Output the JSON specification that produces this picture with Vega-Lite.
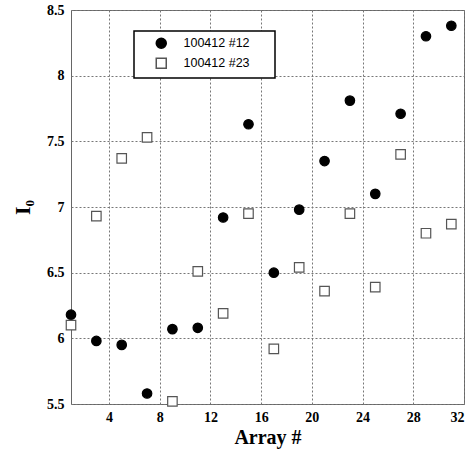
{
  "$schema": "https://vega.github.io/schema/vega-lite/v6.json",
  "width": 393,
  "height": 394,
  "autosize": "none",
  "padding": {"left": 71, "top": 10, "right": 9, "bottom": 45},
  "background": "white",
  "config": {
    "view": {"stroke": "#666", "strokeWidth": 1},
    "axis": {
      "domain": false,
      "ticks": false,
      "grid": true,
      "gridColor": "#777",
      "gridDash": [2, 2],
      "gridWidth": 1,
      "labelFont": "Liberation Serif",
      "labelFontWeight": "bold",
      "labelFontSize": 14,
      "labelColor": "black",
      "titleFont": "Liberation Serif",
      "titleFontWeight": "bold",
      "titleFontSize": 20,
      "titleColor": "black"
    },
    "legend": {
      "orient": "none",
      "legendX": 63,
      "legendY": 21,
      "padding": 6,
      "strokeColor": "black",
      "strokeWidth": 1.5,
      "fillColor": "white",
      "labelFont": "Liberation Sans",
      "labelFontSize": 12.5,
      "labelColor": "black",
      "symbolOffset": 15,
      "labelOffset": 16,
      "rowPadding": 3,
      "titleOrient": "right",
      "titlePadding": 19,
      "titleFontSize": 10
    }
  },
  "data": {
    "values": [
      {"array": 1, "I0": 6.18, "series": "100412 #12"},
      {"array": 3, "I0": 5.98, "series": "100412 #12"},
      {"array": 5, "I0": 5.95, "series": "100412 #12"},
      {"array": 7, "I0": 5.58, "series": "100412 #12"},
      {"array": 9, "I0": 6.07, "series": "100412 #12"},
      {"array": 11, "I0": 6.08, "series": "100412 #12"},
      {"array": 13, "I0": 6.92, "series": "100412 #12"},
      {"array": 15, "I0": 7.63, "series": "100412 #12"},
      {"array": 17, "I0": 6.50, "series": "100412 #12"},
      {"array": 19, "I0": 6.98, "series": "100412 #12"},
      {"array": 21, "I0": 7.35, "series": "100412 #12"},
      {"array": 23, "I0": 7.81, "series": "100412 #12"},
      {"array": 25, "I0": 7.10, "series": "100412 #12"},
      {"array": 27, "I0": 7.71, "series": "100412 #12"},
      {"array": 29, "I0": 8.30, "series": "100412 #12"},
      {"array": 31, "I0": 8.38, "series": "100412 #12"},
      {"array": 1, "I0": 6.10, "series": "100412 #23"},
      {"array": 3, "I0": 6.93, "series": "100412 #23"},
      {"array": 5, "I0": 7.37, "series": "100412 #23"},
      {"array": 7, "I0": 7.53, "series": "100412 #23"},
      {"array": 9, "I0": 5.52, "series": "100412 #23"},
      {"array": 11, "I0": 6.51, "series": "100412 #23"},
      {"array": 13, "I0": 6.19, "series": "100412 #23"},
      {"array": 15, "I0": 6.95, "series": "100412 #23"},
      {"array": 17, "I0": 5.92, "series": "100412 #23"},
      {"array": 19, "I0": 6.54, "series": "100412 #23"},
      {"array": 21, "I0": 6.36, "series": "100412 #23"},
      {"array": 23, "I0": 6.95, "series": "100412 #23"},
      {"array": 25, "I0": 6.39, "series": "100412 #23"},
      {"array": 27, "I0": 7.40, "series": "100412 #23"},
      {"array": 29, "I0": 6.80, "series": "100412 #23"},
      {"array": 31, "I0": 6.87, "series": "100412 #23"}
    ]
  },
  "mark": {"type": "point", "filled": false, "strokeWidth": 1.2, "opacity": 1, "clip": false},
  "encoding": {
    "x": {
      "field": "array",
      "type": "quantitative",
      "scale": {"domain": [1, 32], "nice": false, "zero": false},
      "axis": {"values": [4, 8, 12, 16, 20, 24, 28, 32], "title": "Array #", "labelPadding": 6, "titlePadding": 3}
    },
    "y": {
      "field": "I0",
      "type": "quantitative",
      "scale": {"domain": [5.5, 8.5], "nice": false, "zero": false},
      "axis": {"values": [5.5, 6, 6.5, 7, 7.5, 8, 8.5], "format": "~g", "title": "I₀", "titleFontSize": 22, "labelPadding": 7, "titlePadding": 12}
    },
    "shape": {
      "field": "series",
      "type": "nominal",
      "title": " ",
      "scale": {"domain": ["100412 #12", "100412 #23"], "range": ["circle", "square"]}
    },
    "fill": {
      "field": "series",
      "type": "nominal",
      "title": " ",
      "scale": {"domain": ["100412 #12", "100412 #23"], "range": ["black", "white"]}
    },
    "stroke": {
      "field": "series",
      "type": "nominal",
      "title": " ",
      "scale": {"domain": ["100412 #12", "100412 #23"], "range": ["black", "#555"]}
    },
    "size": {"value": 90}
  }
}
